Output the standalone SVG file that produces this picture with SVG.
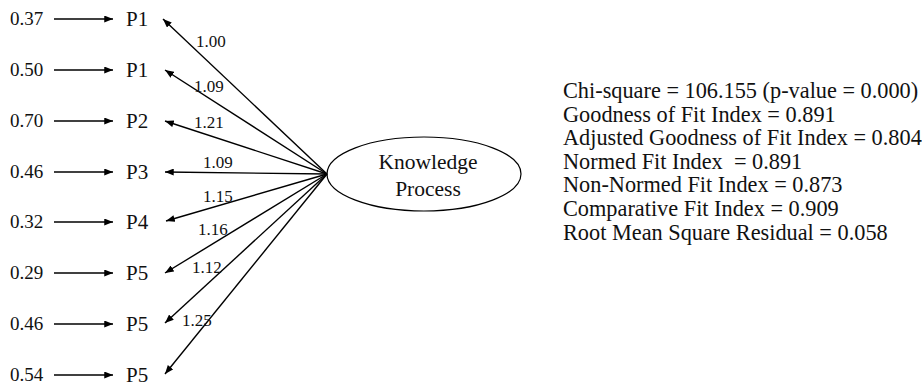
<svg xmlns="http://www.w3.org/2000/svg" width="922" height="387" viewBox="0 0 922 387">
  <defs>
    <marker id="arr" viewBox="0 0 10 8" refX="10" refY="4" markerWidth="9" markerHeight="7" markerUnits="userSpaceOnUse" orient="auto">
      <path d="M0,0 L10,4 L0,8 Z" fill="#000"/>
    </marker>
    <style>
      text { font-family: "Liberation Serif", "Times New Roman", serif; fill: #111; }
      .err { font-size: 19px; }
      .ind { font-size: 21px; }
      .ld { font-size: 17px; }
      .lat { font-size: 21.5px; }
      .fit { font-size: 22.3px; white-space: pre; }
      .edge { stroke: #000; stroke-width: 1.4; fill: none; marker-end: url(#arr); }
    </style>
  </defs>
  <rect width="922" height="387" fill="#fff"/>

  <!-- error terms feeding each indicator -->
  <g id="errors">
    <text class="err" x="10" y="25">0.37</text>
    <text class="err" x="10" y="76">0.50</text>
    <text class="err" x="10" y="127">0.70</text>
    <text class="err" x="10" y="178">0.46</text>
    <text class="err" x="10" y="228">0.32</text>
    <text class="err" x="10" y="279">0.29</text>
    <text class="err" x="10" y="330">0.46</text>
    <text class="err" x="10" y="381">0.54</text>
  </g>

  <!-- indicator nodes -->
  <g id="ind1"><text class="ind" x="126" y="26">P1</text></g>
  <g id="ind2"><text class="ind" x="126" y="77">P1</text></g>
  <g id="ind3"><text class="ind" x="126" y="128">P2</text></g>
  <g id="ind4"><text class="ind" x="126" y="179">P3</text></g>
  <g id="ind5"><text class="ind" x="126" y="229">P4</text></g>
  <g id="ind6"><text class="ind" x="126" y="280">P5</text></g>
  <g id="ind7"><text class="ind" x="126" y="331">P5</text></g>
  <g id="ind8"><text class="ind" x="126" y="382">P5</text></g>

  <!-- latent construct -->
  <g id="latent">
    <ellipse cx="424" cy="174" rx="97" ry="37" fill="#fff" stroke="#000" stroke-width="1.2"/>
    <text class="lat" x="428" y="169" text-anchor="middle">Knowledge</text>
    <text class="lat" x="428" y="196" text-anchor="middle">Process</text>
  </g>

  <!-- connectors -->
  <g id="connectors">
    <line class="edge" x1="54" y1="19" x2="113" y2="19"/>
    <line class="edge" x1="54" y1="70" x2="113" y2="70"/>
    <line class="edge" x1="54" y1="121" x2="113" y2="121"/>
    <line class="edge" x1="54" y1="172" x2="113" y2="172"/>
    <line class="edge" x1="54" y1="222" x2="113" y2="222"/>
    <line class="edge" x1="54" y1="273" x2="113" y2="273"/>
    <line class="edge" x1="54" y1="324" x2="113" y2="324"/>
    <line class="edge" x1="54" y1="375" x2="113" y2="375"/>

    <line class="edge" x1="327" y1="174" x2="163" y2="19"/>
    <line class="edge" x1="327" y1="174" x2="165" y2="70"/>
    <line class="edge" x1="327" y1="174" x2="165" y2="121"/>
    <line class="edge" x1="327" y1="174" x2="165" y2="172"/>
    <line class="edge" x1="327" y1="174" x2="166" y2="221"/>
    <line class="edge" x1="327" y1="174" x2="165" y2="273"/>
    <line class="edge" x1="327" y1="174" x2="165" y2="323"/>
    <line class="edge" x1="327" y1="174" x2="165" y2="374"/>
  </g>

  <!-- loading values -->
  <g id="loadings">
    <text class="ld" x="196" y="47">1.00</text>
    <text class="ld" x="194" y="92">1.09</text>
    <text class="ld" x="194" y="128">1.21</text>
    <text class="ld" x="203" y="168">1.09</text>
    <text class="ld" x="203" y="202">1.15</text>
    <text class="ld" x="198" y="235">1.16</text>
    <text class="ld" x="192" y="273">1.12</text>
    <text class="ld" x="182" y="326">1.25</text>
  </g>

  <!-- model fit statistics -->
  <g id="fit">
    <text class="fit" x="563" y="98">Chi-square = 106.155 (p-value = 0.000)</text>
    <text class="fit" x="563" y="122">Goodness of Fit Index = 0.891</text>
    <text class="fit" x="563" y="145">Adjusted Goodness of Fit Index = 0.804</text>
    <text class="fit" x="563" y="169">Normed Fit Index  = 0.891</text>
    <text class="fit" x="563" y="192">Non-Normed Fit Index = 0.873</text>
    <text class="fit" x="563" y="216">Comparative Fit Index = 0.909</text>
    <text class="fit" x="563" y="240">Root Mean Square Residual = 0.058</text>
  </g>
</svg>
